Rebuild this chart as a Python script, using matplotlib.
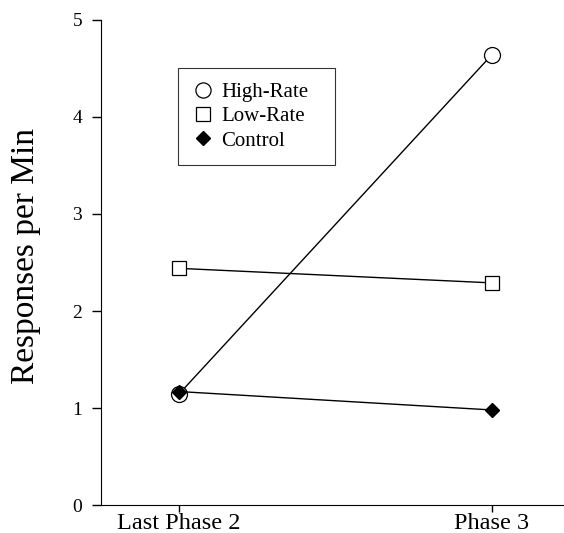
import matplotlib
matplotlib.use('Agg')
import matplotlib.pyplot as plt

phases = ['Last Phase 2', 'Phase 3']
high_rate = [1.14, 4.64]
low_rate = [2.44, 2.29]
control = [1.17, 0.98]

plt.rcParams['font.family'] = ['Liberation Serif', 'DejaVu Serif']

fig = plt.figure(figsize=(5.64, 5.33), dpi=100)
ax = fig.add_axes([0.179, 0.0525, 0.82, 0.91])

x = range(len(phases))
ax.plot(x, high_rate, '-', color='black', lw=1.0, marker='o', ms=11.5,
        mfc='white', mec='black', mew=0.9, label='High-Rate', zorder=3)
ax.plot(x, low_rate, '-', color='black', lw=1.0, marker='s', ms=10.5,
        mfc='white', mec='black', mew=0.9, label='Low-Rate', zorder=3)
ax.plot(x, control, '-', color='black', lw=1.0, marker='D', ms=7.5,
        mfc='black', mec='black', label='Control', zorder=4)

ax.set_xlim(-0.248, 1.229)
ax.set_ylim(0, 5)
ax.set_xticks(list(x))
ax.set_xticklabels(phases)
ax.set_yticks(range(6))
ax.tick_params(axis='x', labelsize=17.5, length=5, width=1, pad=1)
ax.tick_params(axis='y', labelsize=14, length=6.5, width=1, pad=7)
ax.spines['top'].set_visible(False)
ax.spines['right'].set_visible(False)
ax.set_ylabel('Responses per Min', fontsize=24)
ax.yaxis.set_label_coords(-0.129, 0.513)

leg = ax.legend(loc='upper left', bbox_to_anchor=(0.166, 0.5, 0.339, 0.401),
                mode='expand', fontsize=15,
                frameon=True, fancybox=False, edgecolor='black', borderpad=0.7,
                handletextpad=0.4, handlelength=1.0, labelspacing=0.22,
                borderaxespad=0, markerscale=0.95)
leg.get_frame().set_linewidth(0.8)
for h in leg.get_lines():
    h.set_linestyle('none')

fig.savefig('out.png', dpi=100)
